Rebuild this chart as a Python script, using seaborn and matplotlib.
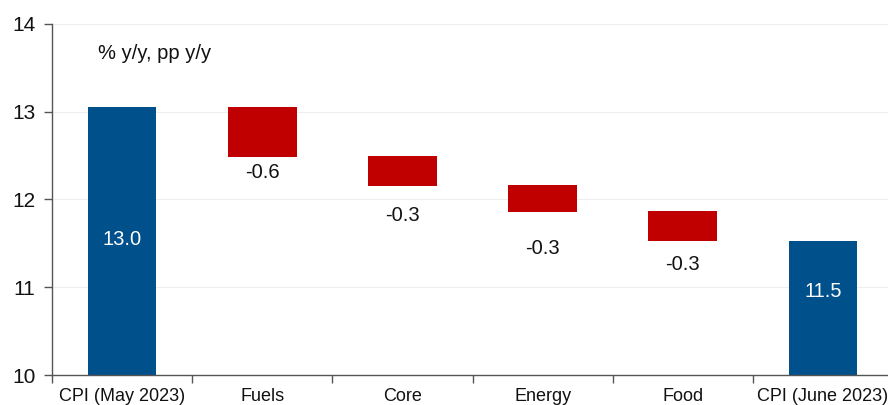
import numpy as np
import pandas as pd
import seaborn as sns
import matplotlib.pyplot as plt

categories = ["CPI (May 2023)", "Fuels", "Core", "Energy", "Food", "CPI (June 2023)"]
bar_top = [13.05, 13.05, 12.49, 12.16, 11.87, 11.53]
bar_bottom = [10.0, 12.48, 12.15, 11.86, 11.53, 10.0]
labels = ["13.0", "-0.6", "-0.3", "-0.3", "-0.3", "11.5"]
label_y = [11.54, 12.31, 11.82, 11.44, 11.26, 10.95]
colors = ["#00508C", "#C00000", "#C00000", "#C00000", "#C00000", "#00508C"]

df = pd.DataFrame({
    "cat": categories,
    "height": np.array(bar_top) - np.array(bar_bottom),
})

sns.set_style("white")
plt.rcParams['font.family'] = ['Liberation Sans', 'DejaVu Sans']

fig = plt.figure(figsize=(8.88, 4.05), dpi=100)
ax = fig.add_axes([0.0586, 0.074, 0.947, 0.867])

sns.barplot(data=df, x="cat", y="height", order=categories, color=colors[0],
            bottom=bar_bottom, width=0.49, saturation=1, ax=ax)
for patch, c in zip(ax.patches, colors):
    patch.set_facecolor(c)
    patch.set_edgecolor("none")

for i, (t, yv) in enumerate(zip(labels, label_y)):
    col = "white" if colors[i] == "#00508C" else "#111111"
    ax.text(i, yv, t, ha="center", va="center", fontsize=14.5, color=col)

ax.text(0.055, 0.9, "% y/y, pp y/y", transform=ax.transAxes, fontsize=14.5, color="#111111")

ax.set_ylim(10, 14)
ax.set_xlim(-0.5, 5.5)
ax.set_yticks([10, 11, 12, 13, 14])
ax.set_xticks(range(6))
ax.set_xticklabels(categories)
ax.set_xticks(np.arange(-0.5, 6, 1), minor=True)
ax.tick_params(axis="x", which="major", bottom=True, length=0, pad=9, labelsize=13, colors="#111111")
ax.tick_params(axis="x", which="minor", bottom=True, length=6, color="#555555", width=1, direction="out")
ax.tick_params(axis="y", left=True, length=6, width=1, labelsize=15, colors="#111111", pad=6,
               direction="out")
ax.tick_params(axis="y", color="#555555")
ax.set_xlabel("")
ax.set_ylabel("")
ax.yaxis.grid(True, color="#eeeeee", linewidth=0.8)
ax.set_axisbelow(True)
for s in ["top", "right"]:
    ax.spines[s].set_visible(False)
for s in ["left", "bottom"]:
    ax.spines[s].set_color("#555555")
    ax.spines[s].set_linewidth(1)

fig.savefig("out.png", dpi=100)
